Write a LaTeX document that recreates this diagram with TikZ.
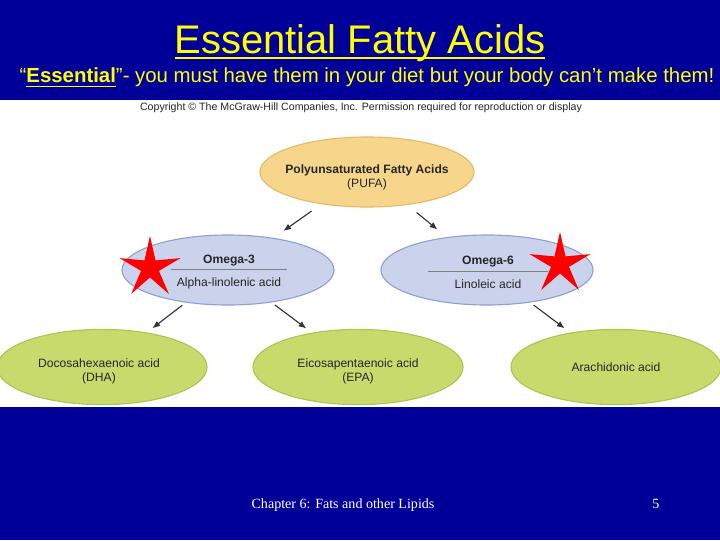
\documentclass[tikz,border=0pt]{standalone}
\usepackage{fontspec}
\setmainfont{Liberation Sans}
\newfontfamily\serifface{Liberation Serif}
\usepackage{tikz}
\usetikzlibrary{arrows.meta, positioning, shapes.geometric}

\definecolor{slideblue}{HTML}{000099}
\definecolor{titleyellow}{HTML}{FFFF00}
\definecolor{pufafill}{HTML}{F7D58A}
\definecolor{pufaedge}{HTML}{E4BA68}
\definecolor{omegafill}{HTML}{CBD3EC}
\definecolor{omegaedge}{HTML}{8EA1D4}
\definecolor{acidfill}{HTML}{C8DA6C}
\definecolor{acidedge}{HTML}{AEC350}
\definecolor{arrowgray}{HTML}{333333}

% underline a piece of text: depth, thickness, text
\newcommand{\ulbox}[3]{\setbox0=\hbox{#3}\rlap{\rule[#1]{\wd0}{#2}}\box0}

\begin{document}
\begin{tikzpicture}[
    x=0.025cm, y=-0.025cm,
    ellipsebox/.style={
        ellipse,
        inner sep=0pt,
        line width=0.8pt
    },
    pufabox/.style={ellipsebox, fill=pufafill, draw=pufaedge,
        minimum width=5.35cm, minimum height=1.75cm},
    omegabox/.style={ellipsebox, fill=omegafill, draw=omegaedge,
        minimum width=5.3cm, minimum height=1.75cm},
    acidbox/.style={ellipsebox, fill=acidfill, draw=acidedge,
        minimum width=5.25cm, minimum height=1.88cm},
    boxtext/.style={align=center, font=\fontsize{8.6}{10}\selectfont, text=black!85},
    arrow/.style={-{Latex[length=5.5pt, width=4.5pt]}, arrowgray, line width=0.8pt,
        shorten <=3pt, shorten >=5pt},
    redstar/.style={star, star points=5, star point ratio=3.4, fill=red,
        inner sep=0pt, minimum size=1.6cm}
]

\fill[slideblue] (0,0) rectangle (720,540);
\fill[white] (0,100) rectangle (720,407);
\useasboundingbox (0,0) rectangle (720,540);

\node[anchor=base, text=titleyellow, font=\fontsize{28.4}{32}\selectfont] (title) at (360,53)
    {\ulbox{-4.6pt}{1.8pt}{Essential Fatty Acids}};
\node[anchor=base, text=titleyellow, font=\fontsize{14.5}{17}\selectfont] (subtitle) at (367,82)
    {“\ulbox{-3.9pt}{1.1pt}{\textbf{Essential}}”- you must have them in your diet but your body can’t make them!};
\node[anchor=base, font=\fontsize{7.55}{8}\selectfont, text=black!85] (copyright) at (361,110)
    {Copyright © The McGraw-Hill Companies, Inc. Permission required for reproduction or display};

\begin{scope}
\clip (0,100) rectangle (720,407);

\node[pufabox] (pufa) at (367,172) {};
\node[boxtext] (pufa-text) at (367,177) {\textbf{Polyunsaturated Fatty Acids}\\(PUFA)};

\node[omegabox] (omega3) at (228,270) {};
\node[boxtext] (omega3-text) at (229,272)
    {\textbf{Omega-3}\\[-5pt]\textcolor{gray}{\rule{2.9cm}{0.5pt}}\\[2pt]Alpha-linolenic acid};

\node[omegabox] (omega6) at (487,270) {};
\node[boxtext] (omega6-text) at (488,272)
    {\textbf{Omega-6}\\[-5pt]\textcolor{gray}{\rule{3cm}{0.5pt}}\\[2pt]Linoleic acid};

\node[acidbox] (dha) at (102,367) {};
\node[boxtext] (dha-text) at (99,371) {Docosahexaenoic acid\\(DHA)};

\node[acidbox] (epa) at (358,367) {};
\node[boxtext] (epa-text) at (358,371) {Eicosapentaenoic acid\\(EPA)};

\node[acidbox] (ara) at (616,367) {};
\node[boxtext] (ara-text) at (616,367) {Arachidonic acid};
\end{scope}

\draw[arrow, shorten <=8.5pt, shorten >=8.5pt] (pufa) -- (omega3);
\draw[arrow, shorten <=8.5pt, shorten >=8.5pt] (pufa) -- (omega6);
\draw[arrow] (omega3) -- (dha);
\draw[arrow] (omega3) -- (epa);
\draw[arrow] (omega6) -- (ara);

\node[redstar] (star3) at (150,268) {};
\node[redstar] (star6) at (560,264) {};

\node[anchor=base, text=white, font=\serifface\fontsize{10}{12}\selectfont] (footer) at (343,508)
    {Chapter 6: Fats and other Lipids};
\node[anchor=base, text=white, font=\serifface\fontsize{10}{12}\selectfont] (pagenum) at (656,508) {5};

\end{tikzpicture}
\end{document}
